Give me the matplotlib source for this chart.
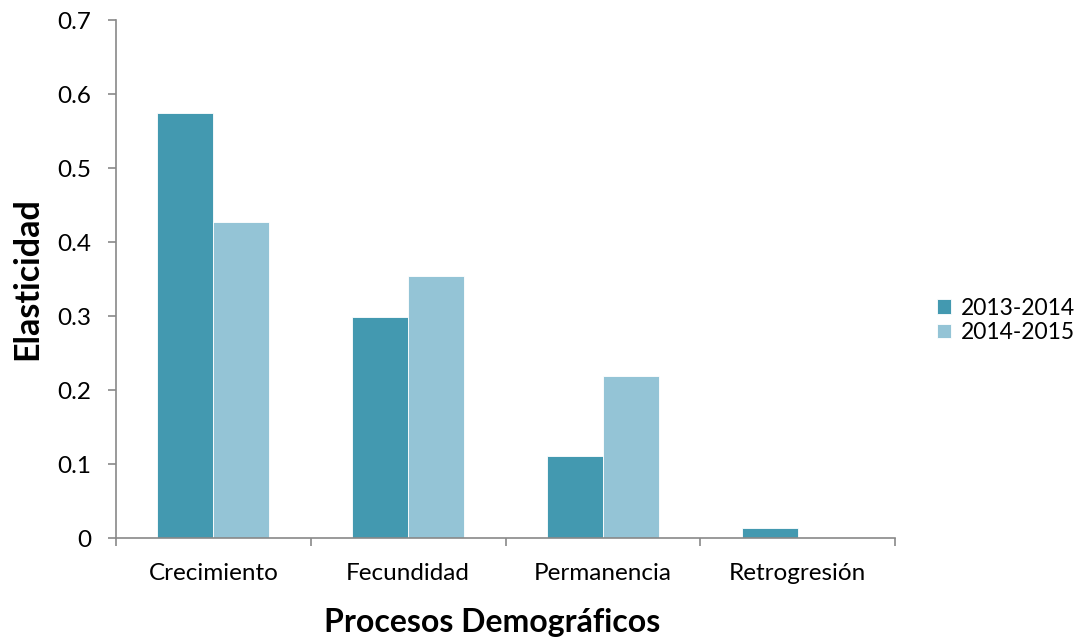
import numpy as np
import matplotlib.pyplot as plt
from matplotlib.ticker import FixedLocator

categories = ['Crecimiento', 'Fecundidad', 'Permanencia', 'Retrogresión']
series_names = ['2013-2014', '2014-2015']
vals_2013 = [0.575, 0.298, 0.111, 0.014]
vals_2014 = [0.427, 0.354, 0.219, 0.0]
y_ticks = [0, 0.1, 0.2, 0.3, 0.4, 0.5, 0.6, 0.7]
y_labels = ['0', '0.1', '0.2', '0.3', '0.4', '0.5', '0.6', '0.7']
colors = ['#4399B0', '#94C4D6']

plt.rcParams['font.family'] = ['Lato', 'DejaVu Sans']

fig = plt.figure(figsize=(10.79, 6.37), dpi=100)
ax = fig.add_axes([0.1075, 0.1554, 0.7220, 0.8132])

x = np.arange(len(categories))
w = 0.2875
ax.bar(x - w / 2, vals_2013, w, color=colors[0], edgecolor='white', linewidth=0.6, label=series_names[0])
ax.bar(x + w / 2, vals_2014, w, color=colors[1], edgecolor='white', linewidth=0.6, label=series_names[1])

ax.set_xlim(-0.5, len(categories) - 0.5)
ax.set_ylim(0, 0.7)
ax.set_yticks(y_ticks)
ax.set_yticklabels(y_labels)

ax.set_xticks(x)
ax.set_xticklabels(categories)
ax.xaxis.set_minor_locator(FixedLocator(np.arange(-0.5, len(categories), 1.0)))
ax.tick_params(axis='x', which='major', length=0, pad=18, labelsize=17.5)
ax.tick_params(axis='x', which='minor', length=6, color='#898989', width=1.2)
ax.tick_params(axis='y', length=6, color='#898989', width=1.2, labelsize=17.5, pad=12)

for s in ['top', 'right']:
    ax.spines[s].set_visible(False)
for s in ['left', 'bottom']:
    ax.spines[s].set_color('#898989')
    ax.spines[s].set_linewidth(1.2)

ax.set_xlabel('Procesos Demográficos', fontsize=23, fontweight='bold')
ax.xaxis.set_label_coords(0.483, -0.135)
ax.set_ylabel('Elasticidad', fontsize=24.5, fontweight='bold')
ax.yaxis.set_label_coords(-0.093, 0.5)

ax.legend(loc='center left', bbox_to_anchor=(1.028, 0.42), frameon=False, fontsize=16.5,
          handlelength=0.6, handleheight=0.6, handletextpad=0.4, labelspacing=0.15)

fig.savefig('out.png', dpi=100)
